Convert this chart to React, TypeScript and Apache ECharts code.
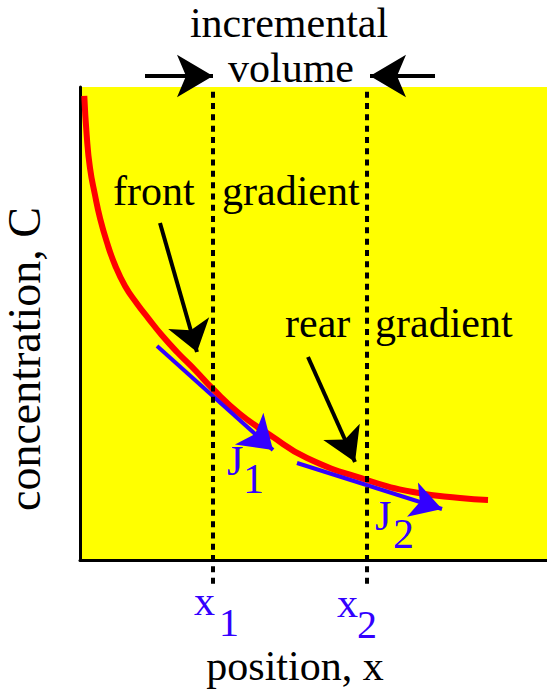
import { useEffect, useRef } from "react";
import * as echarts from "echarts";

// Red concentration profile C(x) (x: 0..100, C: 0..100)
const curveX = [0.92, 1.43, 2.14, 3.21, 4.28, 5.72, 7.49, 9.64, 12.14, 14.63, 17.49, 20.77, 24.62, 28.26, 34.26, 40.69, 48.61, 61.46, 71.31, 81.37, 87.37];
const curveY = [98.1, 89.85, 82.87, 77.16, 72.31, 67.3, 62.37, 57.93, 54.29, 51.1, 47.57, 43.98, 40.17, 36.36, 30.87, 26.43, 21.56, 16.91, 14.38, 13.11, 12.69];

// Boundaries of the incremental volume (x1, x2) and the extent of their dotted lines
const boundaryX = [28.48, 61.46];
const boundaryY = [99, -5.7];
const boundaryLabels = ["x", "x"];
const boundarySubs = ["1", "2"];

// Flux tangents J1, J2 (start -> arrow tip)
const fluxFrom = [[16.49, 45.24], [46.47, 20.51]];
const fluxTo = [[41.33, 23.26], [77.52, 10.78]];

// Black pointer arrows to the front / rear gradients
const pointerFrom = [[17.13, 71.25], [48.82, 42.92]];
const pointerTo = [[25.05, 43.98], [58.89, 20.72]];

// Arrows framing the "incremental volume" label (drawn above the plot area)
const volumeFrom = [[13.92, 102.33], [76.02, 102.33]];
const volumeTo = [[28.48, 102.33], [62.1, 102.33]];

export default function App() {
  const ref = useRef<HTMLDivElement>(null);
  useEffect(() => {
    if (!ref.current) return;
    const chart = echarts.init(ref.current, null, { renderer: "svg" });
    const font = "Liberation Serif, serif";
    const blue = "#3300ff";
    const curve = curveX.map((x, i) => [x, curveY[i]]);

    const arrowPair = (from: number[], to: number[], size: number[]) => [
      { coord: from, symbol: "none" },
      { coord: to, symbol: "arrow", symbolSize: size },
    ];

    const txt = (text: string, x: number, y: number, color = "#000", align = "left", size = 42) => ({
      type: "text",
      x,
      y,
      z: 100,
      silent: true,
      style: {
        text,
        fill: color,
        fontFamily: font,
        fontSize: size,
        lineHeight: 30,
        align,
        textAlign: align,
        verticalAlign: "middle",
        textVerticalAlign: "middle",
      },
    });

    const markLineBase = (color: string) => ({
      silent: true,
      animation: false,
      label: { show: false },
      emphasis: { disabled: true },
      lineStyle: { color, width: 4, type: "solid" },
      itemStyle: { color },
    });

    const boundarySeries = boundaryX.map((bx, i) => ({
      type: "line",
      name: "boundary " + boundaryLabels[i] + boundarySubs[i],
      data: boundaryY.map((by) => [bx, by]),
      symbol: "none",
      clip: false,
      z: 6,
      silent: true,
      lineStyle: { color: "#000", width: 4, type: [6, 5.3] },
    }));

    const volumeSeries = volumeFrom.map((from, i) => ({
      type: "line",
      name: "volume arrow " + (i + 1),
      clip: false,
      silent: true,
      z: 5,
      showSymbol: true,
      showAllSymbol: true,
      symbol: "none",
      data: [
        { value: from, symbol: "none" },
        { value: volumeTo[i], symbol: "arrow", symbolSize: [32, 36], symbolRotate: i === 0 ? -90 : 90 },
      ],
      itemStyle: { color: "#000" },
      lineStyle: { color: "#000", width: 4 },
    }));

    chart.setOption({
      animation: false,
      backgroundColor: "#ffffff",
      grid: {
        left: 80,
        top: 87,
        right: 0,
        bottom: 132,
        containLabel: false,
        outerBoundsMode: "none",
        show: true,
        backgroundColor: "#ffff00",
        borderWidth: 0,
      },
      xAxis: {
        type: "value",
        min: 0,
        max: 100,
        name: "position, x",
        nameLocation: "middle",
        nameGap: 91,
        nameTextStyle: { fontFamily: font, fontSize: 42, lineHeight: 30, color: "#000", padding: [0, 37, 0, 0] },
        axisLine: { show: true, onZero: false, lineStyle: { color: "#000", width: 3 } },
        axisTick: { show: false },
        axisLabel: { show: false },
        splitLine: { show: false },
      },
      yAxis: {
        type: "value",
        min: 0,
        max: 100,
        name: "concentration, C",
        nameLocation: "middle",
        nameGap: 33,
        nameTextStyle: { fontFamily: font, fontSize: 46, color: "#000", padding: [0, 71, 0, 0] },
        axisLine: { show: true, onZero: false, lineStyle: { color: "#000", width: 3 } },
        axisTick: { show: false },
        axisLabel: { show: false },
        splitLine: { show: false },
      },
      series: [
        {
          type: "line",
          name: "C(x)",
          data: curve,
          smooth: 0.5,
          symbol: "none",
          z: 2,
          silent: true,
          lineStyle: { color: "#ff0000", width: 6 },
        },
        {
          type: "line",
          name: "flux",
          data: [],
          z: 3,
          clip: false,
          markLine: {
            ...markLineBase(blue),
            data: [arrowPair(fluxFrom[0], fluxTo[0], [32, 32]), arrowPair(fluxFrom[1], fluxTo[1], [27, 31])],
          },
        },
        {
          type: "line",
          name: "pointers",
          data: [],
          z: 4,
          clip: false,
          markLine: {
            ...markLineBase("#000"),
            data: [arrowPair(pointerFrom[0], pointerTo[0], [32, 30]), arrowPair(pointerFrom[1], pointerTo[1], [30, 33])],
          },
        },
        ...volumeSeries,
        ...boundarySeries,
      ],
      graphic: [
        txt("incremental", 289, 23, "#000", "center"),
        txt("volume", 291, 68, "#000", "center"),
        txt("front", 113, 191),
        txt("gradient", 222, 191),
        txt("rear", 285, 323),
        txt("gradient", 375, 323),
        txt("J", 227, 461, blue),
        txt("1", 243, 479, blue),
        txt("J", 375, 516, blue),
        txt("2", 393, 534, blue),
        txt(boundaryLabels[0], 194, 601, blue),
        txt(boundarySubs[0], 219, 622, blue, "left", 40),
        txt(boundaryLabels[1], 337, 603, blue),
        txt(boundarySubs[1], 357, 624, blue, "left", 40),
      ],
    });
    return () => chart.dispose();
  }, []);
  return <div ref={ref} style={{ position: "absolute", left: 0, top: 0, width: 547, height: 692 }} />;
}
